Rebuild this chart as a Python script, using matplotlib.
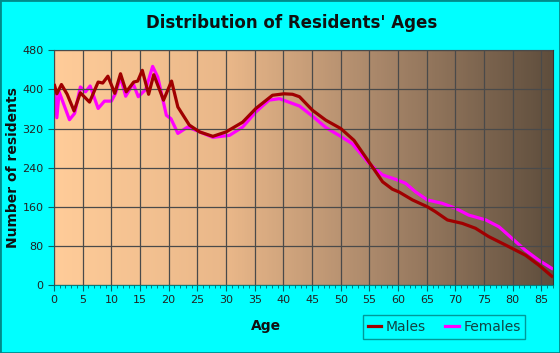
import numpy as np
import matplotlib
matplotlib.use("Agg")
import matplotlib.pyplot as plt
from matplotlib.colors import LinearSegmentedColormap
from matplotlib.ticker import MultipleLocator
from matplotlib.patches import Rectangle

# values
male_age = [0.1, 0.5, 1.3, 2.3, 3.5, 4.6, 6.2, 7.7, 8.5, 9.4, 10.6, 11.6, 12.6, 13.9, 14.6,
            15.4, 16.5, 17.4, 19.1, 20.5, 21.6, 23.6, 25.4, 27.7, 30.0, 32.9, 35.2, 38.1,
            40.1, 41.6, 42.8, 45.1, 47.4, 50.0, 52.3, 54.9, 57.3, 59.0, 60.2, 62.5, 65.1,
            66.5, 68.6, 71.2, 73.5, 75.8, 78.7, 82.2, 84.5, 86.8]
male_val = [408, 391, 410, 390, 356, 393, 374, 415, 413, 427, 392, 432, 395, 415, 417,
            439, 390, 430, 378, 417, 364, 327, 313, 304, 313, 333, 361, 388,
            391, 390, 385, 357, 337, 320, 296, 252, 211, 196, 190, 174, 160,
            150, 133, 126, 116, 99, 82, 61, 41, 18]

female_age = [0.1, 0.5, 0.9, 2.7, 3.6, 4.6, 5.5, 6.3, 7.7, 8.8, 10.0, 10.7, 11.6, 12.5, 13.8,
              14.7, 16.0, 17.2, 18.1, 19.6, 20.4, 21.6, 23.3, 25.0, 27.7, 30.6, 32.9, 35.2,
              37.5, 39.3, 42.8, 45.1, 47.4, 49.7, 52.0, 54.9, 57.3, 59.6, 61.3, 63.1, 65.1,
              67.7, 70.0, 72.3, 75.3, 77.6, 79.9, 82.2, 84.5, 86.8]
female_val = [405, 342, 395, 338, 351, 405, 395, 407, 361, 376, 376, 391, 425, 386, 412,
              385, 400, 447, 425, 347, 340, 310, 323, 315, 302, 306, 323, 354,
              378, 381, 366, 345, 322, 306, 289, 249, 225, 216, 208, 190, 174,
              167, 157, 143, 133, 119, 95, 71, 51, 34]

y_ticks = [0, 80, 160, 240, 320, 400, 480]
x_ticks = list(range(0, 90, 5))

fig = plt.figure(figsize=(5.6, 3.53), dpi=100, facecolor="#00FFFF")
ax = fig.add_axes([0.0964, 0.1926, 0.891, 0.665])

# gradient background
cmap = LinearSegmentedColormap.from_list(
    "bg", [(0.0, "#FFCC99"), (0.35, "#E9B789"), (0.65, "#A9876A"), (1.0, "#5F4E3D")])
grad = np.linspace(0, 1, 300).reshape(1, -1)
ax.imshow(grad, cmap=cmap, aspect="auto", extent=[0, 87, 0, 480], zorder=0)

ax.set_xlim(0, 87)
ax.set_ylim(0, 480)
ax.grid(True, color="#4A4A4A", linewidth=0.9, zorder=1)
ax.set_axisbelow(False)

ax.plot(male_age, male_val, color="#A00000", lw=2.3, solid_joinstyle="round", zorder=3, label="Males")
ax.plot(female_age, female_val, color="#FF00FF", lw=2.3, solid_joinstyle="round", zorder=2, label="Females")

ax.set_xticks(x_ticks)
ax.set_yticks(y_ticks)
ax.xaxis.set_minor_locator(MultipleLocator(1))
ax.tick_params(axis="both", which="major", direction="out", length=4, color="#006666",
               labelsize=8, labelcolor="#222222")
ax.tick_params(axis="x", which="minor", direction="out", length=2, color="#006666")
for s in ["top", "right"]:
    ax.spines[s].set_color("#333333")
for s in ["left", "bottom"]:
    ax.spines[s].set_color("#008080")

fig.text(0.521, 0.935, "Distribution of Residents' Ages", ha="center", va="center",
         fontsize=12, fontweight="bold", color="#111111")
fig.text(0.023, 0.525, "Number of residents", ha="center", va="center", rotation=90,
         fontsize=10, fontweight="bold", color="#111111")
fig.text(0.475, 0.077, "Age", ha="center", va="center",
         fontsize=10, fontweight="bold", color="#111111")

leg = fig.legend(loc="center", bbox_to_anchor=(0.793, 0.073), ncol=2, frameon=True,
                 fontsize=10, handlelength=1.0, handletextpad=0.3, columnspacing=1.4,
                 borderpad=0.35, fancybox=False)
leg.get_frame().set_facecolor("#00FFFF")
leg.get_frame().set_edgecolor("#008080")
for t in leg.get_texts():
    t.set_color("#114444")

fig.patches.append(Rectangle((0, 0), 1, 1, transform=fig.transFigure, fill=False,
                             edgecolor="#008B8B", linewidth=2))

fig.savefig("out.png", dpi=100, facecolor=fig.get_facecolor())
